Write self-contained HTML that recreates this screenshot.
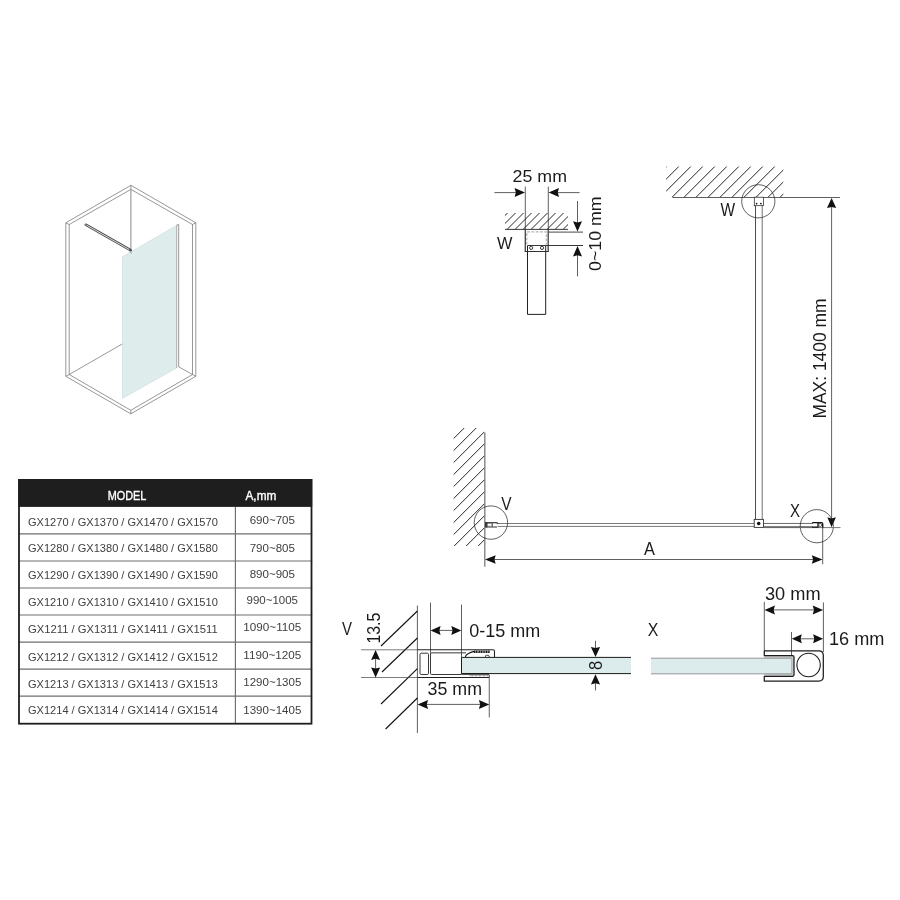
<!DOCTYPE html>
<html><head><meta charset="utf-8"><title>Diagram</title>
<style>
html,body{margin:0;padding:0;background:#fff;}
body{width:900px;height:900px;overflow:hidden;}
svg{display:block;font-family:"Liberation Sans",sans-serif;will-change:transform;}
</style></head><body>
<svg width="900" height="900" viewBox="0 0 900 900">
<rect width="900" height="900" fill="#ffffff"/>
<polygon points="130.90,185.30 195.80,222.80 195.80,376.30 130.80,413.80 65.80,376.30 65.80,222.80" fill="none" stroke="#6a6a6a" stroke-width="0.7" stroke-linejoin="miter"/>
<polygon points="130.90,189.40 192.50,224.50 192.50,374.50 130.80,410.30 69.20,374.50 69.20,224.50" fill="none" stroke="#6a6a6a" stroke-width="0.7" stroke-linejoin="miter"/>
<line x1="130.90" y1="185.30" x2="130.90" y2="189.40" stroke="#6a6a6a" stroke-width="0.7" />
<line x1="195.80" y1="222.80" x2="192.50" y2="224.50" stroke="#6a6a6a" stroke-width="0.7" />
<line x1="195.80" y1="376.30" x2="192.50" y2="374.50" stroke="#6a6a6a" stroke-width="0.7" />
<line x1="130.80" y1="413.80" x2="130.80" y2="410.30" stroke="#6a6a6a" stroke-width="0.7" />
<line x1="65.80" y1="376.30" x2="69.20" y2="374.50" stroke="#6a6a6a" stroke-width="0.7" />
<line x1="65.80" y1="222.80" x2="69.20" y2="224.50" stroke="#6a6a6a" stroke-width="0.7" />
<line x1="130.90" y1="189.40" x2="130.90" y2="250.00" stroke="#8a8a8a" stroke-width="1.0" />
<line x1="69.20" y1="374.50" x2="122.50" y2="343.80" stroke="#6a6a6a" stroke-width="0.7" />
<line x1="192.50" y1="374.50" x2="178.50" y2="366.70" stroke="#6a6a6a" stroke-width="0.7" />
<polygon points="122.5,256.7 176.5,225.5 176.5,368 122.5,398.3" fill="#dfecec" stroke="#c3d4d4" stroke-width="0.5"/>
<line x1="176.70" y1="225.00" x2="176.70" y2="368.00" stroke="#9a9a9a" stroke-width="0.7" />
<line x1="178.70" y1="224.50" x2="178.70" y2="366.70" stroke="#6a6a6a" stroke-width="0.7" />
<line x1="176.70" y1="225.00" x2="178.70" y2="224.50" stroke="#6a6a6a" stroke-width="0.7" />
<line x1="85.70" y1="224.70" x2="130.60" y2="250.20" stroke="#4a4a4a" stroke-width="2.6" />
<line x1="86.50" y1="225.15" x2="129.80" y2="249.75" stroke="#dcdcdc" stroke-width="1.0" />
<circle cx="85.7" cy="224.7" r="1.3" fill="#777"/>
<circle cx="130.6" cy="250.2" r="1.2" fill="#444"/><path d="M129.9 252.6 L130.7 251.6 L131.3 253.6" fill="none" stroke="#777" stroke-width="0.5"/>
<rect x="18.3" y="479.2" width="293.90" height="27.7" fill="#1e1e1e"/>
<text x="127.10" y="499.60" font-size="12.3" fill="#ffffff" text-anchor="middle" font-weight="normal" textLength="38.60" lengthAdjust="spacingAndGlyphs" stroke="#fff" stroke-width="0.35">MODEL</text>
<text x="260.90" y="499.60" font-size="12.3" fill="#ffffff" text-anchor="middle" font-weight="normal" textLength="30.80" lengthAdjust="spacingAndGlyphs" stroke="#fff" stroke-width="0.35">A,mm</text>
<text x="28.00" y="526.20" font-size="11.5" fill="#404040" text-anchor="start" font-weight="normal" textLength="189.80" lengthAdjust="spacingAndGlyphs" >GX1270 / GX1370 / GX1470 / GX1570</text>
<text x="272.30" y="524.40" font-size="11.5" fill="#404040" text-anchor="middle" font-weight="normal" textLength="45.30" lengthAdjust="spacingAndGlyphs" >690~705</text>
<line x1="18.30" y1="533.93" x2="312.20" y2="533.93" stroke="#6e6e6e" stroke-width="1.15" />
<text x="28.00" y="551.93" font-size="11.5" fill="#404040" text-anchor="start" font-weight="normal" textLength="189.80" lengthAdjust="spacingAndGlyphs" >GX1280 / GX1380 / GX1480 / GX1580</text>
<text x="272.30" y="551.83" font-size="11.5" fill="#404040" text-anchor="middle" font-weight="normal" textLength="45.30" lengthAdjust="spacingAndGlyphs" >790~805</text>
<line x1="18.30" y1="560.96" x2="312.20" y2="560.96" stroke="#6e6e6e" stroke-width="1.15" />
<text x="28.00" y="579.16" font-size="11.5" fill="#404040" text-anchor="start" font-weight="normal" textLength="189.80" lengthAdjust="spacingAndGlyphs" >GX1290 / GX1390 / GX1490 / GX1590</text>
<text x="272.30" y="578.46" font-size="11.5" fill="#404040" text-anchor="middle" font-weight="normal" textLength="45.30" lengthAdjust="spacingAndGlyphs" >890~905</text>
<line x1="18.30" y1="587.99" x2="312.20" y2="587.99" stroke="#6e6e6e" stroke-width="1.15" />
<text x="28.00" y="605.89" font-size="11.5" fill="#404040" text-anchor="start" font-weight="normal" textLength="189.80" lengthAdjust="spacingAndGlyphs" >GX1210 / GX1310 / GX1410 / GX1510</text>
<text x="272.30" y="604.29" font-size="11.5" fill="#404040" text-anchor="middle" font-weight="normal" textLength="51.40" lengthAdjust="spacingAndGlyphs" >990~1005</text>
<line x1="18.30" y1="615.02" x2="312.20" y2="615.02" stroke="#6e6e6e" stroke-width="1.15" />
<text x="28.00" y="632.92" font-size="11.5" fill="#404040" text-anchor="start" font-weight="normal" textLength="189.80" lengthAdjust="spacingAndGlyphs" >GX1211 / GX1311 / GX1411 / GX1511</text>
<text x="272.30" y="631.32" font-size="11.5" fill="#404040" text-anchor="middle" font-weight="normal" textLength="58.00" lengthAdjust="spacingAndGlyphs" >1090~1105</text>
<line x1="18.30" y1="642.05" x2="312.20" y2="642.05" stroke="#6e6e6e" stroke-width="1.15" />
<text x="28.00" y="660.65" font-size="11.5" fill="#404040" text-anchor="start" font-weight="normal" textLength="189.80" lengthAdjust="spacingAndGlyphs" >GX1212 / GX1312 / GX1412 / GX1512</text>
<text x="272.30" y="659.25" font-size="11.5" fill="#404040" text-anchor="middle" font-weight="normal" textLength="58.00" lengthAdjust="spacingAndGlyphs" >1190~1205</text>
<line x1="18.30" y1="669.08" x2="312.20" y2="669.08" stroke="#6e6e6e" stroke-width="1.15" />
<text x="28.00" y="687.68" font-size="11.5" fill="#404040" text-anchor="start" font-weight="normal" textLength="189.80" lengthAdjust="spacingAndGlyphs" >GX1213 / GX1313 / GX1413 / GX1513</text>
<text x="272.30" y="686.28" font-size="11.5" fill="#404040" text-anchor="middle" font-weight="normal" textLength="58.00" lengthAdjust="spacingAndGlyphs" >1290~1305</text>
<line x1="18.30" y1="696.11" x2="312.20" y2="696.11" stroke="#6e6e6e" stroke-width="1.15" />
<text x="28.00" y="714.01" font-size="11.5" fill="#404040" text-anchor="start" font-weight="normal" textLength="189.80" lengthAdjust="spacingAndGlyphs" >GX1214 / GX1314 / GX1414 / GX1514</text>
<text x="272.30" y="714.01" font-size="11.5" fill="#404040" text-anchor="middle" font-weight="normal" textLength="58.00" lengthAdjust="spacingAndGlyphs" >1390~1405</text>
<line x1="235.40" y1="506.90" x2="235.40" y2="723.14" stroke="#6e6e6e" stroke-width="1.15" />
<rect x="19.00" y="479.90" width="292.50" height="243.80" fill="none" stroke="#1e1e1e" stroke-width="1.8"/>
<text x="512.60" y="182.00" font-size="17.3" fill="#1a1a1a" text-anchor="start" font-weight="normal" textLength="54.40" lengthAdjust="spacingAndGlyphs" >25 mm</text>
<line x1="494.40" y1="192.60" x2="520.00" y2="192.60" stroke="#222" stroke-width="0.72" />
<polygon points="525.00,192.60 514.60,197.10 515.85,192.60 514.60,188.10" fill="#111"/>
<line x1="579.60" y1="192.60" x2="554.00" y2="192.60" stroke="#222" stroke-width="0.72" />
<polygon points="548.60,192.60 559.00,188.10 557.75,192.60 559.00,197.10" fill="#111"/>
<line x1="525.30" y1="186.60" x2="525.30" y2="229.40" stroke="#222" stroke-width="0.72" />
<line x1="548.30" y1="186.60" x2="548.30" y2="229.40" stroke="#222" stroke-width="0.72" />
<line x1="525.30" y1="229.40" x2="525.30" y2="251.60" stroke="#444" stroke-width="1.3" />
<line x1="548.20" y1="229.40" x2="548.20" y2="251.60" stroke="#444" stroke-width="1.3" />
<clipPath id="hc1"><rect x="505.00" y="213.00" width="63.00" height="16.40"/></clipPath>
<g clip-path="url(#hc1)">
<line x1="483.10" y1="229.40" x2="500.10" y2="212.40" stroke="#1a1a1a" stroke-width="0.95" />
<line x1="491.10" y1="229.40" x2="508.10" y2="212.40" stroke="#1a1a1a" stroke-width="0.95" />
<line x1="499.10" y1="229.40" x2="516.10" y2="212.40" stroke="#1a1a1a" stroke-width="0.95" />
<line x1="507.10" y1="229.40" x2="524.10" y2="212.40" stroke="#1a1a1a" stroke-width="0.95" />
<line x1="515.10" y1="229.40" x2="532.10" y2="212.40" stroke="#1a1a1a" stroke-width="0.95" />
<line x1="523.10" y1="229.40" x2="540.10" y2="212.40" stroke="#1a1a1a" stroke-width="0.95" />
<line x1="531.10" y1="229.40" x2="548.10" y2="212.40" stroke="#1a1a1a" stroke-width="0.95" />
<line x1="539.10" y1="229.40" x2="556.10" y2="212.40" stroke="#1a1a1a" stroke-width="0.95" />
<line x1="547.10" y1="229.40" x2="564.10" y2="212.40" stroke="#1a1a1a" stroke-width="0.95" />
<line x1="555.10" y1="229.40" x2="572.10" y2="212.40" stroke="#1a1a1a" stroke-width="0.95" />
<line x1="563.10" y1="229.40" x2="580.10" y2="212.40" stroke="#1a1a1a" stroke-width="0.95" />
<line x1="571.10" y1="229.40" x2="588.10" y2="212.40" stroke="#1a1a1a" stroke-width="0.95" />
<line x1="579.10" y1="229.40" x2="596.10" y2="212.40" stroke="#1a1a1a" stroke-width="0.95" />
</g>
<line x1="505.00" y1="229.40" x2="568.00" y2="229.40" stroke="#222" stroke-width="0.9" />
<path d="M526.8 244.5 V231.9 H546.3 V244.5" fill="none" stroke="#b4b4b4" stroke-width="1.2" stroke-dasharray="2.8 1.5"/>
<line x1="548.30" y1="232.10" x2="583.00" y2="232.10" stroke="#333" stroke-width="0.9" />
<line x1="527.50" y1="245.50" x2="583.00" y2="245.50" stroke="#222" stroke-width="0.9" />
<line x1="524.70" y1="251.50" x2="548.80" y2="251.50" stroke="#333" stroke-width="1.0" />
<line x1="527.50" y1="245.60" x2="527.50" y2="314.40" stroke="#222" stroke-width="1.0" />
<line x1="545.70" y1="245.60" x2="545.70" y2="314.40" stroke="#222" stroke-width="1.0" />
<line x1="527.50" y1="314.40" x2="545.70" y2="314.40" stroke="#222" stroke-width="1.0" />
<circle cx="531.2" cy="247.9" r="1.6" fill="#fff" stroke="#222" stroke-width="0.9"/>
<circle cx="542" cy="247.9" r="1.6" fill="#fff" stroke="#222" stroke-width="0.9"/>
<text x="497.00" y="249.40" font-size="17.3" fill="#1a1a1a" text-anchor="start" font-weight="normal" textLength="15.40" lengthAdjust="spacingAndGlyphs" >W</text>
<line x1="577.50" y1="201.00" x2="577.50" y2="226.00" stroke="#222" stroke-width="0.72" />
<polygon points="577.50,231.60 573.00,221.20 577.50,222.45 582.00,221.20" fill="#111"/>
<line x1="577.50" y1="276.40" x2="577.50" y2="251.00" stroke="#222" stroke-width="0.72" />
<polygon points="577.50,246.00 582.00,256.40 577.50,255.15 573.00,256.40" fill="#111"/>
<text x="601.00" y="271.00" font-size="17.3" fill="#1a1a1a" text-anchor="start" font-weight="normal" textLength="74.60" lengthAdjust="spacingAndGlyphs" transform="rotate(-90 601.00 271.00)" >0~10 mm</text>
<clipPath id="hc2"><rect x="666.20" y="166.60" width="117.10" height="30.60"/></clipPath>
<g clip-path="url(#hc2)">
<line x1="623.80" y1="197.50" x2="655.10" y2="166.20" stroke="#1a1a1a" stroke-width="0.95" />
<line x1="635.80" y1="197.50" x2="667.10" y2="166.20" stroke="#1a1a1a" stroke-width="0.95" />
<line x1="647.80" y1="197.50" x2="679.10" y2="166.20" stroke="#1a1a1a" stroke-width="0.95" />
<line x1="659.80" y1="197.50" x2="691.10" y2="166.20" stroke="#1a1a1a" stroke-width="0.95" />
<line x1="671.80" y1="197.50" x2="703.10" y2="166.20" stroke="#1a1a1a" stroke-width="0.95" />
<line x1="683.80" y1="197.50" x2="715.10" y2="166.20" stroke="#1a1a1a" stroke-width="0.95" />
<line x1="695.80" y1="197.50" x2="727.10" y2="166.20" stroke="#1a1a1a" stroke-width="0.95" />
<line x1="707.80" y1="197.50" x2="739.10" y2="166.20" stroke="#1a1a1a" stroke-width="0.95" />
<line x1="719.80" y1="197.50" x2="751.10" y2="166.20" stroke="#1a1a1a" stroke-width="0.95" />
<line x1="731.80" y1="197.50" x2="763.10" y2="166.20" stroke="#1a1a1a" stroke-width="0.95" />
<line x1="743.80" y1="197.50" x2="775.10" y2="166.20" stroke="#1a1a1a" stroke-width="0.95" />
<line x1="755.80" y1="197.50" x2="787.10" y2="166.20" stroke="#1a1a1a" stroke-width="0.95" />
<line x1="767.80" y1="197.50" x2="799.10" y2="166.20" stroke="#1a1a1a" stroke-width="0.95" />
<line x1="779.80" y1="197.50" x2="811.10" y2="166.20" stroke="#1a1a1a" stroke-width="0.95" />
<line x1="791.80" y1="197.50" x2="823.10" y2="166.20" stroke="#1a1a1a" stroke-width="0.95" />
</g>
<line x1="672.50" y1="197.50" x2="840.00" y2="197.50" stroke="#222" stroke-width="0.72" />
<circle cx="758.3" cy="201.3" r="16.6" fill="none" stroke="#222" stroke-width="0.72"/>
<text x="720.60" y="215.60" font-size="18" fill="#1a1a1a" text-anchor="start" font-weight="normal" textLength="14.60" lengthAdjust="spacingAndGlyphs" >W</text>
<rect x="754.3" y="197.2" width="9.1" height="8.5" fill="#fff" stroke="#222" stroke-width="0.72"/>
<circle cx="756.6" cy="203.6" r="0.85" fill="#111"/><circle cx="760.9" cy="203.6" r="0.85" fill="#111"/>
<line x1="755.50" y1="205.70" x2="755.50" y2="519.40" stroke="#222" stroke-width="0.8" />
<line x1="762.20" y1="205.70" x2="762.20" y2="519.40" stroke="#333" stroke-width="0.7" />
<line x1="831.60" y1="205.00" x2="831.60" y2="519.00" stroke="#222" stroke-width="0.72" />
<polygon points="831.60,197.90 836.20,208.10 831.60,206.88 827.00,208.10" fill="#111"/>
<polygon points="831.60,527.20 827.30,517.20 831.60,518.40 835.90,517.20" fill="#111"/>
<text x="825.60" y="418.60" font-size="18" fill="#1a1a1a" text-anchor="start" font-weight="normal" textLength="120.20" lengthAdjust="spacingAndGlyphs" transform="rotate(-90 825.60 418.60)" >MAX: 1400 mm</text>
<clipPath id="hc3"><rect x="453.70" y="428.00" width="30.80" height="118.00"/></clipPath>
<g clip-path="url(#hc3)">
<line x1="484.50" y1="395.70" x2="444.50" y2="435.70" stroke="#1a1a1a" stroke-width="0.95" />
<line x1="484.50" y1="407.70" x2="444.50" y2="447.70" stroke="#1a1a1a" stroke-width="0.95" />
<line x1="484.50" y1="419.70" x2="444.50" y2="459.70" stroke="#1a1a1a" stroke-width="0.95" />
<line x1="484.50" y1="431.70" x2="444.50" y2="471.70" stroke="#1a1a1a" stroke-width="0.95" />
<line x1="484.50" y1="443.70" x2="444.50" y2="483.70" stroke="#1a1a1a" stroke-width="0.95" />
<line x1="484.50" y1="455.70" x2="444.50" y2="495.70" stroke="#1a1a1a" stroke-width="0.95" />
<line x1="484.50" y1="467.70" x2="444.50" y2="507.70" stroke="#1a1a1a" stroke-width="0.95" />
<line x1="484.50" y1="479.70" x2="444.50" y2="519.70" stroke="#1a1a1a" stroke-width="0.95" />
<line x1="484.50" y1="491.70" x2="444.50" y2="531.70" stroke="#1a1a1a" stroke-width="0.95" />
<line x1="484.50" y1="503.70" x2="444.50" y2="543.70" stroke="#1a1a1a" stroke-width="0.95" />
<line x1="484.50" y1="515.70" x2="444.50" y2="555.70" stroke="#1a1a1a" stroke-width="0.95" />
<line x1="484.50" y1="527.70" x2="444.50" y2="567.70" stroke="#1a1a1a" stroke-width="0.95" />
<line x1="484.50" y1="539.70" x2="444.50" y2="579.70" stroke="#1a1a1a" stroke-width="0.95" />
<line x1="484.50" y1="551.70" x2="444.50" y2="591.70" stroke="#1a1a1a" stroke-width="0.95" />
<line x1="484.50" y1="563.70" x2="444.50" y2="603.70" stroke="#1a1a1a" stroke-width="0.95" />
</g>
<line x1="484.85" y1="432.50" x2="484.85" y2="566.70" stroke="#333" stroke-width="0.85" />
<circle cx="490.9" cy="522.6" r="16.7" fill="none" stroke="#222" stroke-width="0.72"/>
<text x="501.20" y="509.80" font-size="18" fill="#1a1a1a" text-anchor="start" font-weight="normal" textLength="10.30" lengthAdjust="spacingAndGlyphs" >V</text>
<line x1="497.00" y1="523.50" x2="754.20" y2="523.50" stroke="#444" stroke-width="0.7" />
<line x1="497.00" y1="526.45" x2="754.20" y2="526.45" stroke="#444" stroke-width="0.7" />
<line x1="763.50" y1="523.45" x2="813.00" y2="523.45" stroke="#444" stroke-width="0.8" />
<line x1="763.50" y1="527.00" x2="813.00" y2="527.00" stroke="#555" stroke-width="1.5" />
<rect x="485" y="522.2" width="12.6" height="5.2" fill="#fff"/>
<path d="M485 522.75 H496 Q497.6 522.75 497.9 523.6" fill="none" stroke="#111" stroke-width="1.2"/>
<line x1="485.00" y1="527.00" x2="497.00" y2="527.00" stroke="#333" stroke-width="1.0" />
<rect x="485" y="522.2" width="2.4" height="5.2" fill="#3a3a3a"/>
<rect x="487.6" y="523.7" width="3.8" height="2.4" fill="#fff" stroke="#555" stroke-width="0.5"/>
<line x1="492.50" y1="522.80" x2="492.50" y2="527.00" stroke="#555" stroke-width="0.8" />
<rect x="754.2" y="519.4" width="9.35" height="8.0" fill="#fff" stroke="#333" stroke-width="0.9"/>
<circle cx="758.7" cy="523.4" r="1.75" fill="#111"/>
<circle cx="816.8" cy="526.2" r="16.6" fill="none" stroke="#222" stroke-width="0.72"/>
<text x="790.10" y="516.80" font-size="18.2" fill="#1a1a1a" text-anchor="start" font-weight="normal" textLength="10.00" lengthAdjust="spacingAndGlyphs" >X</text>
<line x1="764.00" y1="527.60" x2="840.50" y2="527.60" stroke="#666" stroke-width="0.9" />
<path d="M812.2 522.6 H821.6 Q822.7 522.6 822.7 523.8 V527.6" fill="none" stroke="#111" stroke-width="1.3"/>
<path d="M812.2 527.2 H818 V523" fill="none" stroke="#111" stroke-width="1.3"/>
<circle cx="820.1" cy="525.0" r="1.55" fill="#fff" stroke="#222" stroke-width="0.7"/>
<line x1="822.70" y1="524.70" x2="822.70" y2="564.30" stroke="#222" stroke-width="0.72" />
<line x1="492.00" y1="559.50" x2="815.00" y2="559.50" stroke="#222" stroke-width="0.72" />
<polygon points="485.00,559.50 495.70,555.20 494.42,559.50 495.70,563.80" fill="#111"/>
<polygon points="822.50,559.50 811.80,563.80 813.08,559.50 811.80,555.20" fill="#111"/>
<text x="643.90" y="554.90" font-size="18" fill="#1a1a1a" text-anchor="start" font-weight="normal" textLength="10.90" lengthAdjust="spacingAndGlyphs" >A</text>
<text x="341.90" y="635.30" font-size="18" fill="#1a1a1a" text-anchor="start" font-weight="normal" textLength="10.00" lengthAdjust="spacingAndGlyphs" >V</text>
<text x="380.40" y="643.60" font-size="17.5" fill="#1a1a1a" text-anchor="start" font-weight="normal" textLength="31.00" lengthAdjust="spacingAndGlyphs" transform="rotate(-90 380.40 643.60)" >13.5</text>
<line x1="417.40" y1="605.60" x2="417.40" y2="733.00" stroke="#222" stroke-width="0.72" />
<line x1="417.40" y1="611.00" x2="381.00" y2="646.00" stroke="#111" stroke-width="1.1" />
<line x1="417.40" y1="638.00" x2="382.00" y2="672.00" stroke="#111" stroke-width="1.1" />
<line x1="417.40" y1="668.60" x2="381.00" y2="704.00" stroke="#111" stroke-width="1.1" />
<line x1="417.40" y1="698.00" x2="385.60" y2="729.00" stroke="#111" stroke-width="1.1" />
<line x1="361.00" y1="649.80" x2="417.40" y2="649.80" stroke="#444" stroke-width="0.7" />
<line x1="361.00" y1="677.50" x2="417.40" y2="677.50" stroke="#444" stroke-width="0.7" />
<line x1="375.60" y1="657.00" x2="375.60" y2="670.00" stroke="#222" stroke-width="0.72" />
<polygon points="375.60,649.90 380.10,659.90 375.60,658.70 371.10,659.90" fill="#111"/>
<polygon points="375.60,677.40 371.10,667.40 375.60,668.60 380.10,667.40" fill="#111"/>
<path d="M417.4 649.75 H493 Q494.5 649.75 494.5 651.3 V657.3" fill="none" stroke="#222" stroke-width="1.05"/>
<line x1="417.40" y1="677.50" x2="489.25" y2="677.50" stroke="#222" stroke-width="1.05" />
<rect x="420" y="653.2" width="8.5" height="21.3" rx="1.2" fill="#fff" stroke="#222" stroke-width="0.9"/>
<path d="M466 652.85 H431.7 Q430.5 652.85 430.5 654.05 V673.3 Q430.5 674.5 431.7 674.5 H461.5" fill="none" stroke="#222" stroke-width="0.9"/>
<path d="M465.3 657.3 C465.5 655.6 466.4 654.3 468.4 653.4 S472 651.9 474.5 651.4" fill="none" stroke="#111" stroke-width="1.1"/>
<line x1="474.00" y1="651.75" x2="489.50" y2="651.75" stroke="#1a1a1a" stroke-width="2.3" stroke-dasharray="1.25 0.45"/>
<line x1="489.30" y1="650.40" x2="489.30" y2="653.00" stroke="#333" stroke-width="0.8" />
<path d="M485.5 657.3 V656 Q485.5 655.3 486.2 655.3 H488.6 L489.5 657.3" fill="none" stroke="#222" stroke-width="0.8"/>
<line x1="469.50" y1="675.75" x2="488.70" y2="675.75" stroke="#333" stroke-width="0.8" stroke-dasharray="0.8 0.55"/>
<line x1="489.25" y1="674.60" x2="489.25" y2="677.50" stroke="#333" stroke-width="0.9" />
<rect x="461.5" y="657.4" width="169.5" height="16.2" fill="#dcebec"/>
<line x1="461.50" y1="657.40" x2="631.00" y2="657.40" stroke="#1a1a1a" stroke-width="1" />
<line x1="461.50" y1="673.60" x2="631.00" y2="673.60" stroke="#1a1a1a" stroke-width="1" />
<line x1="461.50" y1="673.95" x2="489.00" y2="673.95" stroke="#1a1a1a" stroke-width="1.5" />
<line x1="461.50" y1="657.40" x2="461.50" y2="673.60" stroke="#1a1a1a" stroke-width="1" />
<line x1="430.50" y1="602.60" x2="430.50" y2="653.20" stroke="#222" stroke-width="0.72" />
<line x1="461.50" y1="604.60" x2="461.50" y2="657.40" stroke="#222" stroke-width="0.72" />
<line x1="437.00" y1="630.40" x2="455.00" y2="630.40" stroke="#222" stroke-width="0.72" />
<polygon points="430.60,630.40 440.60,625.90 439.40,630.40 440.60,634.90" fill="#111"/>
<polygon points="461.30,630.40 451.30,634.90 452.50,630.40 451.30,625.90" fill="#111"/>
<text x="469.30" y="636.60" font-size="17.5" fill="#1a1a1a" text-anchor="start" font-weight="normal" textLength="71.00" lengthAdjust="spacingAndGlyphs" >0-15 mm</text>
<text x="427.60" y="695.40" font-size="17.5" fill="#1a1a1a" text-anchor="start" font-weight="normal" textLength="54.40" lengthAdjust="spacingAndGlyphs" >35 mm</text>
<line x1="424.00" y1="704.40" x2="483.00" y2="704.40" stroke="#222" stroke-width="0.72" />
<polygon points="417.60,704.40 428.00,699.90 426.75,704.40 428.00,708.90" fill="#111"/>
<polygon points="489.30,704.40 478.90,708.90 480.15,704.40 478.90,699.90" fill="#111"/>
<line x1="489.25" y1="677.50" x2="489.25" y2="717.40" stroke="#222" stroke-width="0.72" />
<text x="601.80" y="669.90" font-size="18" fill="#1a1a1a" text-anchor="start" font-weight="normal" textLength="9.20" lengthAdjust="spacingAndGlyphs" transform="rotate(-90 601.80 669.90)" >8</text>
<line x1="595.50" y1="640.80" x2="595.50" y2="650.00" stroke="#222" stroke-width="0.72" />
<polygon points="595.50,657.10 590.90,646.90 595.50,648.12 600.10,646.90" fill="#111"/>
<line x1="595.50" y1="690.40" x2="595.50" y2="681.00" stroke="#222" stroke-width="0.72" />
<polygon points="595.50,674.20 600.10,684.40 595.50,683.18 590.90,684.40" fill="#111"/>
<text x="647.80" y="635.70" font-size="18" fill="#1a1a1a" text-anchor="start" font-weight="normal" textLength="10.60" lengthAdjust="spacingAndGlyphs" >X</text>
<rect x="764.3" y="655.7" width="29.7" height="20.5" fill="#cbcbcb"/>
<rect x="651" y="658.3" width="140.6" height="15.45" fill="#dcebec"/>
<line x1="651.00" y1="658.20" x2="791.60" y2="658.20" stroke="#8a8a8a" stroke-width="0.9" />
<line x1="651.00" y1="673.85" x2="791.60" y2="673.85" stroke="#8a8a8a" stroke-width="0.9" />
<line x1="791.60" y1="658.20" x2="791.60" y2="673.85" stroke="#999" stroke-width="0.6" />
<path d="M764.3 655.7 V650.8 H818.8 Q823.3 650.8 823.3 655.3 V676.5 Q823.3 681 818.8 681 H764.3 V676.25 H792.6 Q794 676.25 794 674.85 V657.1 Q794 655.7 792.6 655.7 Z" fill="#fff" stroke="#1c1c1c" stroke-width="1.25" stroke-linejoin="round"/>
<circle cx="808.6" cy="665" r="11.7" fill="#fff" stroke="#1c1c1c" stroke-width="1.1"/>
<line x1="764.30" y1="601.80" x2="764.30" y2="650.80" stroke="#222" stroke-width="0.72" />
<line x1="823.40" y1="602.40" x2="823.40" y2="652.00" stroke="#222" stroke-width="0.72" />
<line x1="791.50" y1="632.00" x2="791.50" y2="655.70" stroke="#222" stroke-width="0.72" />
<text x="765.00" y="599.90" font-size="17.5" fill="#1a1a1a" text-anchor="start" font-weight="normal" textLength="55.60" lengthAdjust="spacingAndGlyphs" >30 mm</text>
<line x1="771.00" y1="609.90" x2="817.00" y2="609.90" stroke="#222" stroke-width="0.72" />
<polygon points="764.50,609.90 774.90,605.40 773.65,609.90 774.90,614.40" fill="#111"/>
<polygon points="823.10,609.90 812.70,614.40 813.95,609.90 812.70,605.40" fill="#111"/>
<line x1="798.00" y1="638.80" x2="817.00" y2="638.80" stroke="#222" stroke-width="0.72" />
<polygon points="791.80,638.80 801.80,634.30 800.60,638.80 801.80,643.30" fill="#111"/>
<polygon points="823.10,638.80 813.10,643.30 814.30,638.80 813.10,634.30" fill="#111"/>
<text x="829.00" y="644.60" font-size="17.5" fill="#1a1a1a" text-anchor="start" font-weight="normal" textLength="55.40" lengthAdjust="spacingAndGlyphs" >16 mm</text>
</svg>
</body></html>
